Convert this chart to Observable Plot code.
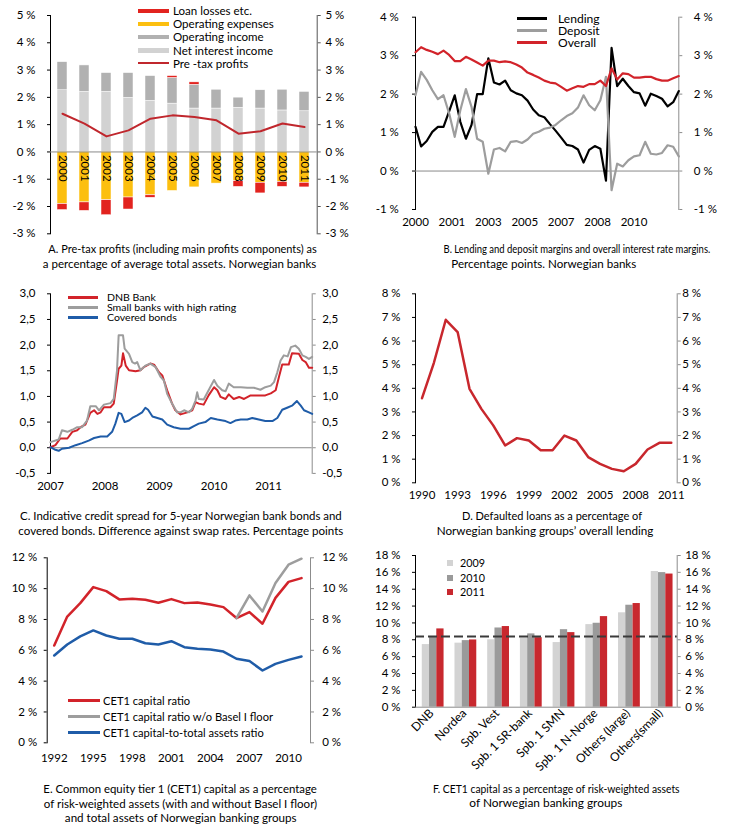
<!DOCTYPE html>
<html>
<head>
<meta charset="utf-8">
<script src="https://cdn.jsdelivr.net/npm/d3@7"></script>
<script src="https://cdn.jsdelivr.net/npm/@observablehq/plot@0.6"></script>
<style>
  html, body { margin: 0; padding: 0; background: #fff; }
  #fig { position: relative; width: 730px; height: 826px; overflow: hidden; background: #fff; }
</style>
</head>
<body>
<div id="fig"></div>
<script>
// ---------------- DATA ----------------
// A. Pre-tax profits and components (% of average total assets)
const yearsA = [2000, 2001, 2002, 2003, 2004, 2005, 2006, 2007, 2008, 2009, 2010, 2011];
const netInterestIncome = [2.26, 2.20, 2.20, 1.98, 1.87, 1.77, 1.59, 1.59, 1.62, 1.59, 1.52, 1.49];
const operatingIncome   = [1.03, 0.97, 0.69, 0.91, 0.91, 0.94, 0.87, 0.69, 0.37, 0.67, 0.76, 0.71];
const operatingExpenses = [-1.91, -1.85, -1.77, -1.67, -1.59, -1.43, -1.30, -1.16, -1.07, -1.13, -1.10, -1.13];
const loanLosses        = [-0.22, -0.31, -0.55, -0.44, -0.09, 0.07, 0.09, 0.00, -0.21, -0.39, -0.18, -0.17];
const preTaxProfits     = [1.40, 1.04, 0.57, 0.79, 1.22, 1.34, 1.28, 1.16, 0.67, 0.76, 1.04, 0.91];

// B. Quarterly margins 2000Q1-2011Q4 (percentage points)
const lendingMargin = [1.15, 0.64, 0.78, 1.02, 1.15, 1.15, 1.55, 1.97, 1.28, 0.84, 1.20, 2.00,
  2.00, 2.93, 2.30, 2.25, 2.35, 2.10, 2.02, 1.97, 1.83, 1.60, 1.45, 1.40,
  1.22, 1.05, 0.87, 0.68, 0.65, 0.56, 0.22, 0.55, 0.65, 0.58, -0.25, 3.20,
  2.21, 2.40, 2.21, 2.05, 2.02, 1.70, 2.01, 1.95, 1.88, 1.68, 1.79, 2.08];
const depositMargin = [1.97, 2.58, 2.37, 2.10, 1.87, 1.97, 1.50, 0.89, 1.58, 2.13, 1.67, 0.84,
  0.76, -0.07, 0.56, 0.60, 0.51, 0.76, 0.78, 0.73, 0.82, 0.97, 1.02, 1.10,
  1.13, 1.20, 1.32, 1.43, 1.50, 1.65, 1.97, 1.71, 1.58, 1.84, 2.45, -0.50,
  0.19, 0.12, 0.28, 0.38, 0.41, 0.76, 0.45, 0.43, 0.47, 0.67, 0.63, 0.38];
const overallMargin = [3.09, 3.22, 3.15, 3.10, 3.04, 3.13, 3.02, 2.86, 2.86, 2.97, 2.90, 2.82,
  2.74, 2.87, 2.87, 2.83, 2.85, 2.83, 2.77, 2.69, 2.56, 2.50, 2.43, 2.35,
  2.30, 2.28, 2.19, 2.09, 2.15, 2.21, 2.19, 2.26, 2.26, 2.35, 2.21, 2.67,
  2.38, 2.54, 2.52, 2.43, 2.43, 2.45, 2.45, 2.39, 2.35, 2.35, 2.41, 2.47];
const marginTickPos = [0, 6.5, 13, 19.5, 26, 32.5, 39];
const marginTickLabels = ["2000", "2001", "2003", "2005", "2007", "2008", "2010"];

// C. Credit spreads (decimal year, percentage points)
const dnbT = [2007.00, 2007.09, 2007.18, 2007.31, 2007.40, 2007.49, 2007.55, 2007.64, 2007.73, 2007.80, 2007.86, 2007.92, 2007.98,
  2008.10, 2008.16, 2008.22, 2008.25, 2008.30, 2008.33, 2008.38, 2008.44, 2008.56, 2008.65, 2008.71, 2008.83, 2008.90, 2008.99,
  2009.05, 2009.14, 2009.23, 2009.29, 2009.385, 2009.51, 2009.60, 2009.66, 2009.72, 2009.81, 2009.90, 2010.00, 2010.06, 2010.12,
  2010.21, 2010.27, 2010.36, 2010.46, 2010.55, 2010.67, 2010.79, 2010.94, 2011.04, 2011.13, 2011.19, 2011.25, 2011.37, 2011.43,
  2011.555, 2011.62, 2011.68, 2011.74, 2011.80];
const dnbV = [0.01, 0.05, 0.18, 0.18, 0.31, 0.34, 0.40, 0.45, 0.68, 0.73, 0.66, 0.69, 0.79,
  0.79, 0.86, 1.31, 1.54, 1.60, 1.84, 1.60, 1.51, 1.49, 1.51, 1.57, 1.64, 1.62, 1.47,
  1.41, 1.12, 0.86, 0.73, 0.65, 0.69, 0.73, 0.89, 0.86, 0.84, 1.02, 1.18, 1.12, 0.99,
  0.95, 1.04, 0.95, 0.99, 0.95, 1.02, 1.02, 1.02, 1.06, 1.12, 1.38, 1.62, 1.62, 1.84,
  1.83, 1.71, 1.67, 1.56, 1.56];
const smallT = [2007.00, 2007.15, 2007.21, 2007.31, 2007.40, 2007.49, 2007.58, 2007.67, 2007.73, 2007.83, 2007.89, 2007.98,
  2008.10, 2008.16, 2008.22, 2008.25, 2008.33, 2008.36, 2008.44, 2008.50, 2008.55, 2008.59, 2008.65, 2008.74, 2008.83, 2008.93,
  2009.02, 2009.08, 2009.14, 2009.23, 2009.32, 2009.385, 2009.45, 2009.54, 2009.60, 2009.66, 2009.69, 2009.72, 2009.81, 2009.90,
  2010.00, 2010.06, 2010.15, 2010.21, 2010.27, 2010.36, 2010.49, 2010.61, 2010.73, 2010.85, 2010.94, 2011.04, 2011.10, 2011.16,
  2011.22, 2011.28, 2011.35, 2011.41, 2011.49, 2011.555, 2011.62, 2011.68, 2011.74, 2011.80];
const smallV = [0.11, 0.16, 0.34, 0.31, 0.35, 0.40, 0.40, 0.53, 0.81, 0.81, 0.73, 0.84,
  0.87, 0.95, 1.51, 2.19, 2.19, 1.93, 1.83, 1.67, 1.64, 1.67, 1.51, 1.60, 1.64, 1.57,
  1.38, 1.31, 1.05, 0.86, 0.69, 0.69, 0.73, 0.69, 0.76, 0.92, 1.08, 0.95, 0.94, 1.12,
  1.32, 1.21, 1.12, 1.10, 1.25, 1.18, 1.18, 1.17, 1.17, 1.13, 1.18, 1.21, 1.28, 1.47,
  1.70, 1.80, 1.78, 1.96, 1.99, 1.93, 1.80, 1.77, 1.73, 1.77];
const coveredT = [2007.00, 2007.09, 2007.15, 2007.21, 2007.34, 2007.46, 2007.58, 2007.70, 2007.80, 2007.92, 2008.04, 2008.13,
  2008.19, 2008.25, 2008.30, 2008.36, 2008.44, 2008.50, 2008.59, 2008.68, 2008.74, 2008.79, 2008.87, 2008.96, 2009.05, 2009.14,
  2009.26, 2009.385, 2009.54, 2009.63, 2009.72, 2009.84, 2009.94, 2010.06, 2010.21, 2010.30, 2010.39, 2010.49, 2010.61, 2010.70,
  2010.82, 2010.94, 2011.07, 2011.16, 2011.25, 2011.34, 2011.43, 2011.52, 2011.59, 2011.65, 2011.74, 2011.80];
const coveredV = [0.01, -0.04, -0.06, -0.02, 0.00, 0.05, 0.09, 0.14, 0.19, 0.22, 0.22, 0.31,
  0.47, 0.68, 0.66, 0.50, 0.53, 0.58, 0.63, 0.69, 0.78, 0.74, 0.61, 0.58, 0.55, 0.45,
  0.40, 0.37, 0.37, 0.42, 0.47, 0.50, 0.58, 0.55, 0.52, 0.48, 0.53, 0.55, 0.55, 0.58,
  0.55, 0.52, 0.52, 0.58, 0.74, 0.78, 0.82, 0.91, 0.82, 0.73, 0.69, 0.66];
const spreadYears = [2007, 2008, 2009, 2010, 2011];

// D. Defaulted loans (% of lending)
const yearsD = [1990, 1991, 1992, 1993, 1994, 1995, 1996, 1997, 1998, 1999, 2000, 2001, 2002, 2003, 2004, 2005, 2006, 2007, 2008, 2009, 2010, 2011];
const defaulted = [3.58, 5.08, 6.90, 6.38, 3.98, 3.13, 2.43, 1.58, 1.89, 1.79, 1.38, 1.38, 2.00, 1.79, 1.09, 0.80, 0.59, 0.49, 0.80, 1.41, 1.69, 1.69];
const ticksD = [1990, 1993, 1996, 1999, 2002, 2005, 2008, 2011];

// E. CET1 capital ratios
const yearsE = [1992, 1993, 1994, 1995, 1996, 1997, 1998, 1999, 2000, 2001, 2002, 2003, 2004, 2005, 2006, 2007, 2008, 2009, 2010, 2011];
const cet1Ratio = [6.31, 8.19, 9.06, 10.10, 9.84, 9.30, 9.34, 9.28, 9.08, 9.32, 9.06, 9.10, 8.97, 8.80, 8.09, 8.48, 7.72, 9.40, 10.44, 10.68];
const yearsNoFloor = [2006, 2007, 2008, 2009, 2010, 2011];
const cet1NoFloor = [8.09, 9.56, 8.52, 10.36, 11.55, 11.94];
const cet1Assets = [5.66, 6.38, 6.90, 7.29, 6.96, 6.75, 6.75, 6.46, 6.38, 6.59, 6.20, 6.10, 6.05, 5.92, 5.45, 5.30, 4.69, 5.12, 5.38, 5.60];
const ticksE = [1992, 1995, 1998, 2001, 2004, 2007, 2010];

// F. CET1 capital ratio by banking group
const groupsF = ["DNB", "Nordea", "Spb. Vest", "Spb. 1 SR-bank", "Spb. 1 SMN", "Spb. 1 N-Norge", "Others (large)", "Others(small)"];
const seriesF = ["2009", "2010", "2011"];
const cet1_2009 = [7.43, 7.60, 8.00, 8.20, 7.67, 9.80, 11.20, 16.10];
const cet1_2010 = [8.30, 7.90, 9.40, 8.70, 9.20, 9.96, 12.10, 15.97];
const cet1_2011 = [9.29, 7.98, 9.57, 8.25, 8.85, 10.75, 12.30, 15.80];
const referenceLevel = 8.4;

// ---------------- HELPERS ----------------
const FONT = "Lato, 'Open Sans', 'Liberation Sans', sans-serif";
const fig = document.getElementById("fig");
const RED = "#c8272d", GREY = "#9d9d9d", BLUE = "#1f5ca8", AXISGREY = "#8c8c8c";

function place(node, left, top) {
  node.style.position = "absolute";
  node.style.left = left + "px";
  node.style.top = top + "px";
  fig.appendChild(node);
}

function panel(left, top, opts) {
  const svg = Plot.plot({
    ...opts,
    style: { fontFamily: FONT, fontSize: "11.5px", color: "#000", background: "transparent", overflow: "visible" }
  });
  place(svg, left, top);
  return svg;
}

function sideAxes(ticks, fmt, lgap, rgap, rc = AXISGREY) {
  return [
    Plot.frame({ anchor: "left", stroke: "#000" }),
    Plot.frame({ anchor: "right", stroke: rc }),
    Plot.axisY(ticks, { anchor: "left", tickSize: 3, tickPadding: lgap - 3, tickFormat: fmt, stroke: "#000", color: "#000", label: null }),
    Plot.axisY(ticks, { anchor: "right", tickSize: 3, tickPadding: rgap - 3, tickFormat: fmt, stroke: rc, color: "#000", label: null })
  ];
}

function textDiv(text, fs) {
  const d = document.createElement("div");
  d.textContent = text;
  d.style.cssText = `position:absolute;white-space:nowrap;font-family:${FONT};font-size:${fs}px;line-height:1;color:#000;`;
  fig.appendChild(d);
  return d;
}

const clamp = (v, a, b) => Math.max(a, Math.min(b, v));

// caption line at a fixed size, gently condensed to the reference extent [x1, x2], centred on yc
function captionLine(text, x1, x2, yc, fs = 11) {
  const d = textDiv(text, fs);
  const r = d.getBoundingClientRect();
  const s = clamp((x2 - x1) / r.width, 0.86, 1.08);
  d.style.transformOrigin = "50% 50%";
  d.style.transform = `scaleX(${s})`;
  d.style.left = ((x1 + x2) / 2 - r.width / 2) + "px";
  d.style.top = (yc - r.height / 2) + "px";
}

// legend: items {label, color, h}; swatch from sx (width sw), text at tx, rows centred at yc0 + i*rowH
function legend(items, { sx, sw, tx, yc0, rowH, fs, fitLabel, fitWidth, square = false }) {
  const probe = textDiv(fitLabel, fs);
  const s = clamp(fitWidth / probe.getBoundingClientRect().width, 0.85, 1.1);
  probe.remove();
  items.forEach((it, i) => {
    const yc = yc0 + i * rowH;
    const sq = document.createElement("div");
    const h = it.h;
    const w = square ? h : sw;
    sq.style.cssText = `position:absolute;left:${sx}px;top:${yc - h / 2}px;width:${w}px;height:${h}px;background:${it.color};`;
    fig.appendChild(sq);
    const t = textDiv(it.label, fs);
    const r = t.getBoundingClientRect();
    t.style.transformOrigin = "0 50%";
    t.style.transform = `scaleX(${s})`;
    t.style.left = tx + "px";
    t.style.top = (yc - r.height / 2) + "px";
  });
}

const pct = d => `${d} %`;

// ---------------- PANEL A ----------------
const compDomain = ["Net interest income", "Operating income", "Operating expenses", "Loan losses etc."];
const compColors = ["#d2d2d2", "#b1b1b1", "#fcbf0f", "#e2231f"];
const barsA = yearsA.flatMap((yr, i) => [
  { year: yr, comp: compDomain[0], v: netInterestIncome[i] },
  { year: yr, comp: compDomain[1], v: operatingIncome[i] },
  { year: yr, comp: compDomain[2], v: operatingExpenses[i] },
  { year: yr, comp: compDomain[3], v: loanLosses[i] }
]);
panel(0, 0, {
  width: 365, height: 240,
  marginLeft: 50, marginRight: 48.3, marginTop: 15, marginBottom: 6.7,
  x: { type: "band", domain: yearsA, paddingInner: 0.55, paddingOuter: 0.25, axis: null },
  y: { domain: [-3, 5], axis: null },
  color: { domain: compDomain, range: compColors },
  marks: [
    ...sideAxes(d3.range(-3, 6), pct, 15, 8.3, "#555"),
    Plot.barY(barsA, { x: "year", y: "v", fill: "comp", stroke: "#fff", strokeWidth: 0.5 }),
    Plot.ruleY([0], { stroke: "#8a8a8a" }),
    Plot.text(yearsA, { x: d => d, y: 0, text: d => String(d), rotate: 90, textAnchor: "start", lineAnchor: "middle", dy: 3, fontSize: 11.5, fill: "#000" }),
    Plot.lineY(preTaxProfits, { x: (d, i) => yearsA[i], y: d => d, stroke: "#c0272d", strokeWidth: 2 })
  ]
});
legend([
  { label: "Loan losses etc.", color: "#e2231f", h: 4.5 },
  { label: "Operating expenses", color: "#fcbf0f", h: 4.5 },
  { label: "Operating income", color: "#b1b1b1", h: 4.5 },
  { label: "Net interest income", color: "#d2d2d2", h: 4.5 },
  { label: "Pre -tax profits", color: "#c0272d", h: 2 }
], { sx: 137.5, sw: 31, tx: 173, yc0: 11, rowH: 13.1, fs: 11.5, fitLabel: "Net interest income", fitWidth: 100 });
captionLine("A. Pre-tax profits (including main profits components) as", 48.3, 316.7, 248);
captionLine("a percentage of average total assets. Norwegian banks", 43.3, 316.7, 263);

// ---------------- PANEL B ----------------
const labelB = new Map(marginTickPos.map((p, i) => [p, marginTickLabels[i]]));
panel(365, 0, {
  width: 365, height: 240,
  marginLeft: 50, marginRight: 51.7, marginTop: 16.7, marginBottom: 31,
  x: { domain: [0, 47], axis: null },
  y: { domain: [-1, 4], axis: null },
  marks: [
    ...sideAxes(d3.range(-1, 5), pct, 16.7, 15),
    Plot.ruleY([0], { stroke: "#8a8a8a" }),
    Plot.axisX(marginTickPos, { tickSize: 0, tickPadding: 8.5, tickFormat: d => labelB.get(d), label: null }),
    Plot.lineY(lendingMargin, { x: (d, i) => i, y: d => d, stroke: "#000", strokeWidth: 2.2 }),
    Plot.lineY(depositMargin, { x: (d, i) => i, y: d => d, stroke: GREY, strokeWidth: 2.2 }),
    Plot.lineY(overallMargin, { x: (d, i) => i, y: d => d, stroke: "#d2232a", strokeWidth: 2.2 })
  ]
});
legend([
  { label: "Lending", color: "#000", h: 3 },
  { label: "Deposit", color: GREY, h: 3 },
  { label: "Overall", color: "#d2232a", h: 3 }
], { sx: 517, sw: 30, tx: 558, yc0: 18, rowH: 12, fs: 11, fitLabel: "Lending", fitWidth: 41.7 });
captionLine("B. Lending and deposit margins and overall interest rate margins.", 443.3, 710, 248);
captionLine("Percentage points. Norwegian banks", 451.7, 636.7, 263);

// ---------------- PANEL C ----------------
const fmtC = d => d.toFixed(1).replace(".", ",");
panel(0, 275, {
  width: 365, height: 225,
  marginLeft: 50, marginRight: 53.3, marginTop: 18.3, marginBottom: 27.1,
  x: { domain: [2007, 2011.8], axis: null },
  y: { domain: [-0.5, 3], axis: null },
  marks: [
    ...sideAxes(d3.range(-0.5, 3.01, 0.5), fmtC, 15, 10),
    Plot.ruleY([0], { stroke: "#8a8a8a" }),
    Plot.axisX(spreadYears, { tickSize: 0, tickPadding: 8.5, tickFormat: d => String(d), label: null }),
    Plot.line(dnbV, { x: (d, i) => dnbT[i], y: d => d, stroke: "#d2232a", strokeWidth: 2 }),
    Plot.line(smallV, { x: (d, i) => smallT[i], y: d => d, stroke: GREY, strokeWidth: 2 }),
    Plot.line(coveredV, { x: (d, i) => coveredT[i], y: d => d, stroke: BLUE, strokeWidth: 2 })
  ]
});
legend([
  { label: "DNB Bank", color: "#d2232a", h: 3 },
  { label: "Small banks with high rating", color: GREY, h: 3 },
  { label: "Covered bonds", color: BLUE, h: 3 }
], { sx: 68, sw: 30, tx: 107, yc0: 297.7, rowH: 9.9, fs: 9.6, fitLabel: "Small banks with high rating", fitWidth: 141.7 });
captionLine("C. Indicative credit spread for 5-year Norwegian bank bonds and", 20, 341.7, 515);
captionLine("covered bonds. Difference against swap rates. Percentage points", 18.3, 343.3, 530);

// ---------------- PANEL D ----------------
panel(365, 275, {
  width: 365, height: 240,
  marginLeft: 50, marginRight: 53.3, marginTop: 18.3, marginBottom: 32.7,
  x: { domain: [1989.45, 2011.5], axis: null },
  y: { domain: [0, 8], axis: null },
  marks: [
    ...sideAxes(d3.range(0, 9), pct, 15, 5),
    Plot.axisX(ticksD, { tickSize: 0, tickPadding: 8.5, tickFormat: d => String(d), label: null }),
    Plot.line(defaulted, { x: (d, i) => yearsD[i], y: d => d, stroke: RED, strokeWidth: 2.5 })
  ]
});
captionLine("D. Defaulted loans as a percentage of", 461.7, 641.7, 515);
captionLine("Norwegian banking groups’ overall lending", 436.7, 653.3, 530);

// ---------------- PANEL E ----------------
panel(0, 540, {
  width: 365, height: 240,
  marginLeft: 46.7, marginRight: 55, marginTop: 17.3, marginBottom: 37.7,
  x: { domain: [1991.46, 2011.69], axis: null },
  y: { domain: [0, 12], axis: null },
  marks: [
    ...sideAxes(d3.range(0, 13, 2), pct, 10, 11.7),
    Plot.axisX(ticksE, { tickSize: 0, tickPadding: 11.5, tickFormat: d => String(d), label: null }),
    Plot.line(cet1Ratio, { x: (d, i) => yearsE[i], y: d => d, stroke: "#d2232a", strokeWidth: 2.5 }),
    Plot.line(cet1NoFloor, { x: (d, i) => yearsNoFloor[i], y: d => d, stroke: GREY, strokeWidth: 2.5 }),
    Plot.line(cet1Assets, { x: (d, i) => yearsE[i], y: d => d, stroke: BLUE, strokeWidth: 2.5 })
  ]
});
legend([
  { label: "CET1 capital ratio", color: "#d2232a", h: 3 },
  { label: "CET1 capital ratio w/o Basel I floor", color: GREY, h: 3 },
  { label: "CET1 capital-to-total assets ratio", color: BLUE, h: 3 }
], { sx: 68.3, sw: 31.7, tx: 103.3, yc0: 700.7, rowH: 16, fs: 11.5, fitLabel: "CET1 capital ratio w/o Basel I floor", fitWidth: 170 });
captionLine("E. Common equity tier 1 (CET1) capital as a percentage", 43.3, 316.7, 788);
captionLine("of risk-weighted assets (with and without Basel I floor)", 43.3, 316.7, 803);
captionLine("and total assets of Norwegian banking groups", 65, 296.7, 817);

// ---------------- PANEL F ----------------
const colorsF = ["#d3d3d3", "#9a9a9a", "#c8282e"];
const valuesF = [cet1_2009, cet1_2010, cet1_2011];
const barW = 0.222;
const barsF = groupsF.flatMap((g, i) => seriesF.map((s, k) => ({ i, s, k, v: valuesF[k][i] })));
panel(365, 540, {
  width: 365, height: 240,
  marginLeft: 50, marginRight: 53.3, marginTop: 15, marginBottom: 73.3,
  x: { domain: [-0.5, 7.5], axis: null },
  y: { domain: [0, 18], axis: null },
  color: { domain: seriesF, range: colorsF },
  marks: [
    ...sideAxes(d3.range(0, 19, 2), pct, 15, 8),
    Plot.rectY(barsF, { x1: d => d.i + 0.04 + (d.k - 1.5) * barW, x2: d => d.i + 0.04 + (d.k - 0.5) * barW, y1: 0, y2: "v", fill: "s" }),
    Plot.ruleY([0], { stroke: "#8a8a8a" }),
    Plot.ruleY([referenceLevel], { stroke: "#3a3a3a", strokeWidth: 2, strokeDasharray: "9,4" }),
    Plot.axisX(d3.range(groupsF.length), { tickSize: 0, tickPadding: 4, tickRotate: -45, fontSize: 12, tickFormat: i => groupsF[i], label: null })
  ]
});
legend([
  { label: "2009", color: colorsF[0], h: 6 },
  { label: "2010", color: colorsF[1], h: 6 },
  { label: "2011", color: colorsF[2], h: 6 }
], { sx: 446.7, sw: 6, tx: 460, yc0: 563, rowH: 14.6, fs: 12, fitLabel: "2009", fitWidth: 25, square: true });
captionLine("F. CET1 capital as a percentage of risk-weighted assets", 433.3, 680, 788);
captionLine("of Norwegian banking groups", 468.3, 623.3, 802);
</script>
</body>
</html>
